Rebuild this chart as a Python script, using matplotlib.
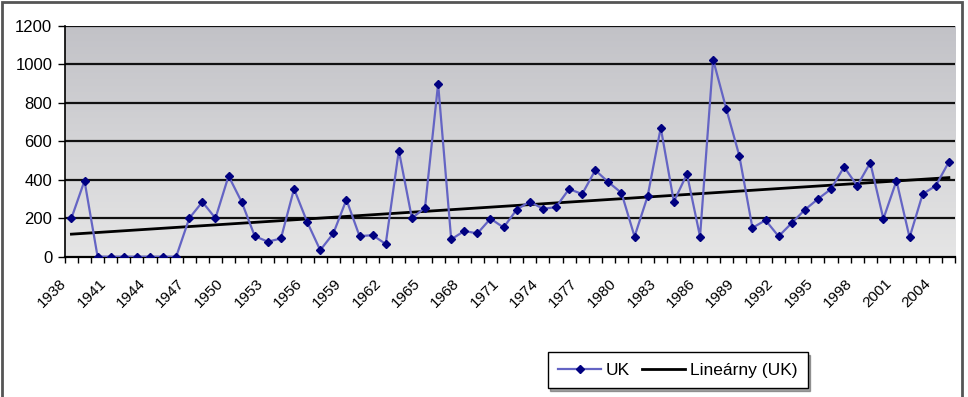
import numpy as np
import matplotlib
matplotlib.use("Agg")
import matplotlib.pyplot as plt
from matplotlib.patches import Rectangle
from matplotlib.transforms import ScaledTranslation

plt.rcParams['font.family'] = ['Liberation Sans', 'DejaVu Sans']

# roky 1938 - 2005
years = list(range(1938, 2006))
uk = [200, 395, 0, 0, 0, 0, 0, 0, 0, 200,
      285, 200, 420, 285, 107, 78, 95, 353, 181, 34,
      121, 297, 107, 112, 66, 552, 200, 255, 900, 90,
      134, 121, 198, 152, 245, 287, 249, 258, 352, 326,
      450, 388, 332, 105, 315, 671, 286, 430, 105, 1025,
      770, 525, 150, 190, 106, 175, 244, 300, 352, 467,
      369, 489, 197, 395, 100, 326, 369, 493]
yticks = [0, 200, 400, 600, 800, 1000, 1200]
label_years = years[::3]

x = np.arange(len(years))
coef = np.polyfit(x, uk, 1)
trend = np.polyval(coef, x)

fig = plt.figure(figsize=(9.68, 3.97), dpi=100)
ax = fig.add_axes([0.067, 0.3534, 0.92, 0.581])

# sedy gradient v pozadi
grad = np.linspace(0, 1, 256).reshape(-1, 1)
top_c = np.array([0.76, 0.76, 0.78])
bot_c = np.array([0.90, 0.90, 0.90])
img = top_c * (1 - grad[..., None]) + bot_c * grad[..., None]
img = img.reshape(256, 1, 3)
ax.imshow(img, extent=[-0.5, len(years) - 0.5, 0, 1200], aspect='auto', zorder=0)

for v in yticks[1:]:
    ax.axhline(v, color='#111111', lw=1.6, zorder=1)

ax.plot(x, uk, color='#6464c4', lw=1.6, marker='D', markersize=4.5,
        markerfacecolor='#000080', markeredgecolor='#000080', zorder=3, label='UK')
ax.plot(x, trend, color='black', lw=2, zorder=2, label='Lineárny (UK)')

ax.set_xlim(-0.5, len(years) - 0.5)
ax.set_ylim(0, 1200)
ax.set_yticks(yticks)
ax.set_yticklabels([str(v) for v in yticks], fontsize=12)
ax.set_xticks(np.arange(-0.5, len(years), 1))
ax.set_xticklabels([])
ax.set_xticks(x[::3], minor=True)
ax.set_xticklabels([str(y) for y in label_years], minor=True, rotation=45,
                   ha='right', va='top', rotation_mode='anchor', fontsize=11)
ax.tick_params(axis='x', which='minor', length=0, pad=14)
ax.tick_params(axis='x', which='major', length=4, width=1, direction='out')
ax.tick_params(axis='y', length=5, width=1, direction='out', pad=4)

# posun popiskov dolava ako v Exceli
shift = ScaledTranslation(-12 / 100, 0, fig.dpi_scale_trans)
for lbl in ax.get_xticklabels(minor=True):
    lbl.set_transform(lbl.get_transform() + shift)

for s in ['top', 'right']:
    ax.spines[s].set_visible(False)
ax.spines['left'].set_linewidth(1.2)
ax.spines['bottom'].set_linewidth(1.6)

leg = fig.legend(loc='center', bbox_to_anchor=(0.70, 0.068), ncol=2, fontsize=12.5,
                 frameon=True, fancybox=False, shadow=True, handlelength=2.5,
                 handletextpad=0.25, columnspacing=0.7, borderpad=0.6)
leg.get_frame().set_edgecolor('black')
leg.get_frame().set_linewidth(1.0)

# ramcek okolo grafu
fig.patches.append(Rectangle((0.002, -0.02), 0.992, 1.015, transform=fig.transFigure,
                             fill=False, edgecolor='#555555', lw=2))

fig.savefig('out.png', dpi=100)
